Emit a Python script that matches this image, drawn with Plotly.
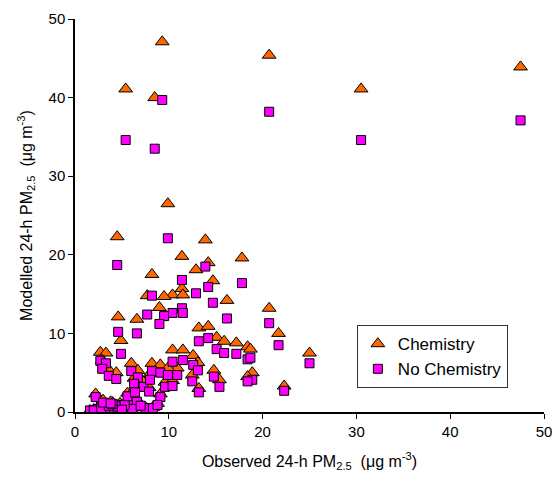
import plotly.graph_objects as go

# Observed 24-h PM2.5 and modelled values (with / without chemistry)
observed = [5.4, 8.5, 9.3, 20.7, 30.5, 47.5, 9.9, 4.5, 13.9, 11.4,
            17.8, 14.2, 12.9, 8.2, 14.7, 11.4, 10.4, 11.5, 9.5, 7.7,
            16.2, 9.0, 20.7, 4.6, 6.6, 21.7, 13.2, 14.2, 15.1, 15.9,
            17.2, 18.4, 18.7, 25.0, 22.3, 18.9, 18.4, 4.9, 2.7, 3.3,
            2.9, 6.0, 3.6, 4.4, 10.4, 11.5, 12.6, 12.5, 13.2, 13.1,
            14.8, 15.4, 6.7, 6.3, 7.3, 8.2, 9.1, 8.0, 7.9, 9.1,
            9.6, 10.4, 10.9, 9.9, 2.2, 5.9, 4.8, 6.6, 7.5, 8.3,
            6.1, 4.1, 3.2, 2.4, 1.6, 4.5, 5.3, 2.0, 2.8, 3.6,
            5.0, 7.0, 3.0, 4.0, 8.8, 5.6, 6.4, 3.8]
chemistry = [41.1, 40.0, 47.1, 45.4, 41.1, 43.9, 26.5, 22.3, 21.9, 19.8,
             19.6, 19.0, 18.1, 17.5, 16.7, 15.7, 14.9, 14.9, 14.7, 14.8,
             14.2, 13.3, 13.2, 12.1, 11.8, 10.0, 10.7, 10.9, 9.5, 9.0,
             8.8, 8.3, 8.0, 7.5, 3.3, 5.0, 4.5, 9.1, 7.6, 7.5,
             6.6, 6.2, 5.4, 5.0, 7.9, 7.9, 7.2, 4.7, 3.0, 6.3,
             5.3, 4.1, 5.3, 4.3, 3.8, 6.2, 6.0, 4.9, 3.1, 2.3,
             3.8, 4.0, 5.6, 5.6, 2.3, 1.8, 1.1, 1.6, 0.6, 0.6,
             0.5, 0.5, 0.4, 0.5, 0.2, 0.8, 1.1, 0.3, 0.6, 1.0,
             0.4, 1.0, 1.5, 1.2, 1.1, 2.4, 3.0, 1.3]
no_chemistry = [34.6, 33.5, 39.7, 38.2, 34.6, 37.1, 22.1, 18.7, 18.5, 16.8,
                16.4, 15.9, 15.1, 14.8, 13.9, 13.2, 12.6, 12.6, 12.2, 12.4,
                11.9, 11.2, 11.3, 10.2, 10.0, 8.5, 9.0, 9.4, 8.0, 7.5,
                7.4, 6.7, 6.9, 6.2, 2.7, 4.1, 3.9, 7.4, 6.5, 6.2,
                5.5, 5.2, 4.6, 4.2, 6.4, 6.6, 6.0, 3.9, 2.5, 5.3,
                4.5, 3.2, 4.4, 3.6, 3.2, 5.2, 5.0, 4.1, 2.6, 1.9,
                3.2, 3.3, 4.7, 4.7, 1.9, 1.5, 0.9, 1.3, 0.5, 0.5,
                0.4, 0.4, 0.3, 0.4, 0.2, 0.7, 0.9, 0.2, 0.5, 0.8,
                0.3, 0.8, 1.2, 1.0, 0.9, 2.0, 2.5, 1.1]

axis_ticks = [0, 10, 20, 30, 40, 50]

FONT = "Liberation Sans, Arial, sans-serif"

fig = go.Figure()
fig.add_trace(go.Scatter(
    x=observed, y=chemistry, mode="markers", name="Chemistry",
    marker=dict(symbol="triangle-up", size=12, color="#FF6600",
                line=dict(color="black", width=1))))
fig.add_trace(go.Scatter(
    x=observed, y=no_chemistry, mode="markers", name="No Chemistry",
    marker=dict(symbol="square", size=9, color="#FF00FF",
                line=dict(color="black", width=1))))

axis_common = dict(range=[0, 50], tickvals=axis_ticks, ticks="outside", ticklen=5,
                   tickcolor="black", showline=True, linecolor="black", linewidth=1.5,
                   showgrid=False, zeroline=False, mirror=False, automargin=False,
                   ticklabeloverflow="allow",
                   tickfont=dict(family=FONT, size=15, color="black"))

fig.update_xaxes(**axis_common,
                 title=dict(text="Observed 24-h PM<sub>2.5</sub>  (\u03bcg m<sup>-3</sup>)",
                            font=dict(family=FONT, size=16, color="black"), standoff=17))
fig.update_yaxes(**axis_common,
                 title=dict(text="Modelled 24-h PM<sub>2.5</sub>  (\u03bcg m<sup>-3</sup>)",
                            font=dict(family=FONT, size=16, color="black"), standoff=12))

fig.update_layout(
    width=552, height=481,
    margin=dict(l=75, r=8, t=19, b=69),
    plot_bgcolor="white", paper_bgcolor="white",
    font=dict(family=FONT, color="black"),
    showlegend=True,
    legend=dict(x=0.601, y=0.221, xanchor="left", yanchor="top",
                bordercolor="#333333", borderwidth=1, bgcolor="white",
                font=dict(family=FONT, size=17, color="black"),
                itemwidth=30, tracegroupgap=0),
)

# remove the default page margin so the figure sits at the window origin
fig.write_html("out.html",
               config={"displayModeBar": False},
               post_script="document.body.style.margin='0';document.body.style.overflow='hidden';")
